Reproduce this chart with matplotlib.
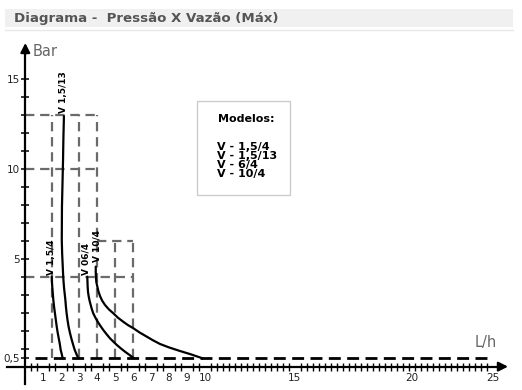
import matplotlib
matplotlib.use("Agg")
import matplotlib.pyplot as plt
from matplotlib.patches import Rectangle

# ---------------- data (in the picture's own axis units) ----------------
title = "Diagrama -  Pressão X Vazão (Máx)"
legend_title = "Modelos:"
legend_models = ["V - 1,5/4", "V - 1,5/13", "V - 6/4", "V - 10/4"]

# y level where the "0,5" baseline is drawn in the original chart
base_level = -0.55

# curve V 1,5/4
v154_flow = [1.47, 1.48, 1.50, 1.53, 1.56, 1.60, 1.65, 1.70, 1.75, 1.80, 1.86, 1.92, 1.97, 2.03, 2.08]
v154_pres = [4.00, 3.72, 3.44, 3.07, 2.70, 2.33, 1.96, 1.58, 1.21, 0.89, 0.57, 0.25, -0.08, -0.32, -0.55]
# curve V 1,5/13
v1513_flow = [2.15, 2.12, 2.10, 2.07, 2.04, 2.03, 2.05, 2.08, 2.11, 2.15, 2.19, 2.23, 2.26,
              2.30, 2.35, 2.41, 2.48, 2.56, 2.65, 2.75, 2.85, 2.95]
v1513_pres = [12.95, 11.7, 10.5, 9.2, 7.9, 6.04, 5.3, 4.65, 4.0, 3.44, 3.07, 2.70, 2.33,
              1.96, 1.58, 1.21, 0.89, 0.57, 0.25, -0.08, -0.32, -0.55]
# curve V 06/4
v064_flow = [3.45, 3.46, 3.47, 3.49, 3.53, 3.58, 3.64, 3.70, 3.78, 3.90, 4.03, 4.18, 4.34,
             4.52, 4.71, 4.90, 5.09, 5.30, 5.55, 5.80, 6.05]
v064_pres = [4.00, 3.70, 3.44, 3.15, 2.89, 2.65, 2.42, 2.20, 1.96, 1.72, 1.49, 1.26, 1.03,
             0.80, 0.57, 0.38, 0.20, 0.02, -0.18, -0.36, -0.55]
# curve V 10/4
v104_flow = [3.92, 3.92, 3.93, 3.95, 4.01, 4.07, 4.16, 4.28, 4.44, 4.65, 4.90, 5.15, 5.45,
             5.72, 6.01, 6.38, 6.76, 7.10, 7.50, 8.00, 8.61, 9.20, 9.87]
v104_pres = [4.56, 4.28, 4.00, 3.72, 3.44, 3.18, 2.92, 2.66, 2.42, 2.18, 1.96, 1.72, 1.49,
             1.30, 1.13, 0.88, 0.66, 0.46, 0.25, 0.06, -0.14, -0.32, -0.55]

curve_names = ["V 1,5/4", "V 1,5/13", "V 06/4", "V 10/4"]
label_x = [1.48, 2.13, 3.38, 3.97]
label_y = [4.10, 13.10, 4.10, 4.80]

# dashed guide lines: (x0, x1, y) horizontals and (x, y0, y1) verticals
guide_h_y = [13, 10, 6, 4]
guide_h_x0 = [0, 0, 4, 0]
guide_h_x1 = [4, 4, 6, 6]
guide_v_x = [1.5, 3, 4, 5, 6]
guide_v_top = [13, 13, 13, 6, 6]

# ticks
y_tick_pos = [15, 10, 5, base_level]
y_tick_lab = ["15", "10", "5", "0,5"]
y_minor = list(range(0, 16))
x_tick_pos = [1, 2, 3, 4, 5, 6, 7, 8, 9, 10, 15, 21.5, 26.0]
x_tick_lab = ["1", "2", "3", "4", "5", "6", "7", "8", "9", "10", "15", "20", "25"]
x_minor_steps = 78          # minor ticks every 1/3 unit

# ---------------- figure ----------------
W, H = 522, 390
fig = plt.figure(figsize=(W / 100, H / 100), dpi=100)
fig.patch.set_facecolor("white")

# pixel -> data mapping of the reference drawing
X0, SX = 25.3, 17.97
Y0, SY = 348.5, 17.95
ax = fig.add_axes([0, 0, 1, 1])
ax.set_facecolor("none")
ax.set_xlim((0 - X0) / SX, (W - X0) / SX)
ax.set_ylim((Y0 - H) / SY, Y0 / SY)

# title band
fig.patches.append(Rectangle((5 / W, 1 - 27 / H), 508 / W, 18 / H,
                             transform=fig.transFigure, facecolor="#f0f0f0",
                             edgecolor="none", zorder=0))
fig.lines.append(plt.Line2D([5 / W, 513 / W], [1 - 29.5 / H, 1 - 29.5 / H],
                            transform=fig.transFigure, color="#e8e8e8", lw=1))
fig.text(14 / W, 1 - 18.5 / H, title, fontsize=9.6, fontweight="bold",
         color="#555555", va="center", ha="left", family="DejaVu Sans")

# axes spines
x_axis_y = -1.01
for s in ["top", "right"]:
    ax.spines[s].set_visible(False)
ax.spines["left"].set_position(("data", 0))
ax.spines["bottom"].set_position(("data", x_axis_y))
ax.spines["left"].set_bounds(-1.95, 16.7)
ax.spines["bottom"].set_bounds(-1.02, 26.5)
ax.spines["left"].set_linewidth(1.6)
ax.spines["bottom"].set_linewidth(1.6)

# arrow heads
ax.annotate("", xy=(0, 17.02), xytext=(0, 16.4),
            arrowprops=dict(arrowstyle="-|>,head_length=0.55,head_width=0.28",
                            color="black", lw=1.6, shrinkA=0, shrinkB=0))
ax.annotate("", xy=(26.86, x_axis_y), xytext=(26.3, x_axis_y),
            arrowprops=dict(arrowstyle="-|>,head_length=0.55,head_width=0.28",
                            color="black", lw=1.6, shrinkA=0, shrinkB=0))

# ticks
ax.set_yticks(y_tick_pos)
ax.set_yticklabels(y_tick_lab)
ax.set_yticks(y_minor, minor=True)
ax.set_xticks(x_tick_pos)
ax.set_xticklabels(x_tick_lab)
ax.set_xticks([k / 3 for k in range(1, x_minor_steps + 1)], minor=True)
ax.tick_params(axis="y", which="both", direction="inout", length=6, width=1.1,
               pad=1, labelsize=7.5, labelcolor="#222222")
ax.tick_params(axis="x", which="minor", direction="inout", length=6, width=1.0)
ax.tick_params(axis="x", which="major", length=0, pad=4.5, labelsize=7.5,
               labelcolor="#222222")

# axis labels
ax.text((33 - X0) / SX, (Y0 - 52) / SY, "Bar", fontsize=10.5, color="#666666",
        ha="left", va="center")
ax.text((475 - X0) / SX, (Y0 - 343) / SY, "L/h", fontsize=10.5, color="#666666",
        ha="left", va="center")

# dashed guides (gray)
gray = "#6a6a6a"
for y, a, b in zip(guide_h_y, guide_h_x0, guide_h_x1):
    ax.plot([a, b], [y, y], color=gray, lw=1.6, dashes=(4.2, 2.6), zorder=2)
for x, top in zip(guide_v_x, guide_v_top):
    ax.plot([x, x], [base_level, top], color=gray, lw=1.6, dashes=(4.2, 2.6), zorder=2)

# baseline 0,5 (black)
ax.plot([0.55, 25.75], [base_level, base_level], color="black", lw=2.0,
        dashes=(4.3, 2.3), zorder=3)

# curves
for fx, py in [(v154_flow, v154_pres), (v1513_flow, v1513_pres),
               (v064_flow, v064_pres), (v104_flow, v104_pres)]:
    ax.plot(fx, py, color="black", lw=1.6, solid_capstyle="round",
            solid_joinstyle="round", zorder=4)

for name, x, y in zip(curve_names, label_x, label_y):
    ax.text(x, y, name, rotation=90, fontsize=6.5, fontweight="bold",
            ha="center", va="bottom", color="black", zorder=5)

# legend box
bx0, by0, bx1, by1 = 197, 101, 290, 195
ax.add_patch(Rectangle(((bx0 - X0) / SX, (Y0 - by1) / SY), (bx1 - bx0) / SX,
                       (by1 - by0) / SY, facecolor="white", edgecolor="#cccccc",
                       lw=1.0, zorder=1))
ax.text((218 - X0) / SX, (Y0 - 119) / SY, legend_title, fontsize=8, fontweight="bold",
        ha="left", va="center")
for i, m in enumerate(legend_models):
    ax.text((217 - X0) / SX, (Y0 - (147 + 8.9 * i)) / SY, m, fontsize=8,
            fontweight="bold", ha="left", va="center", linespacing=1.0)

fig.savefig("out.png", dpi=100)
